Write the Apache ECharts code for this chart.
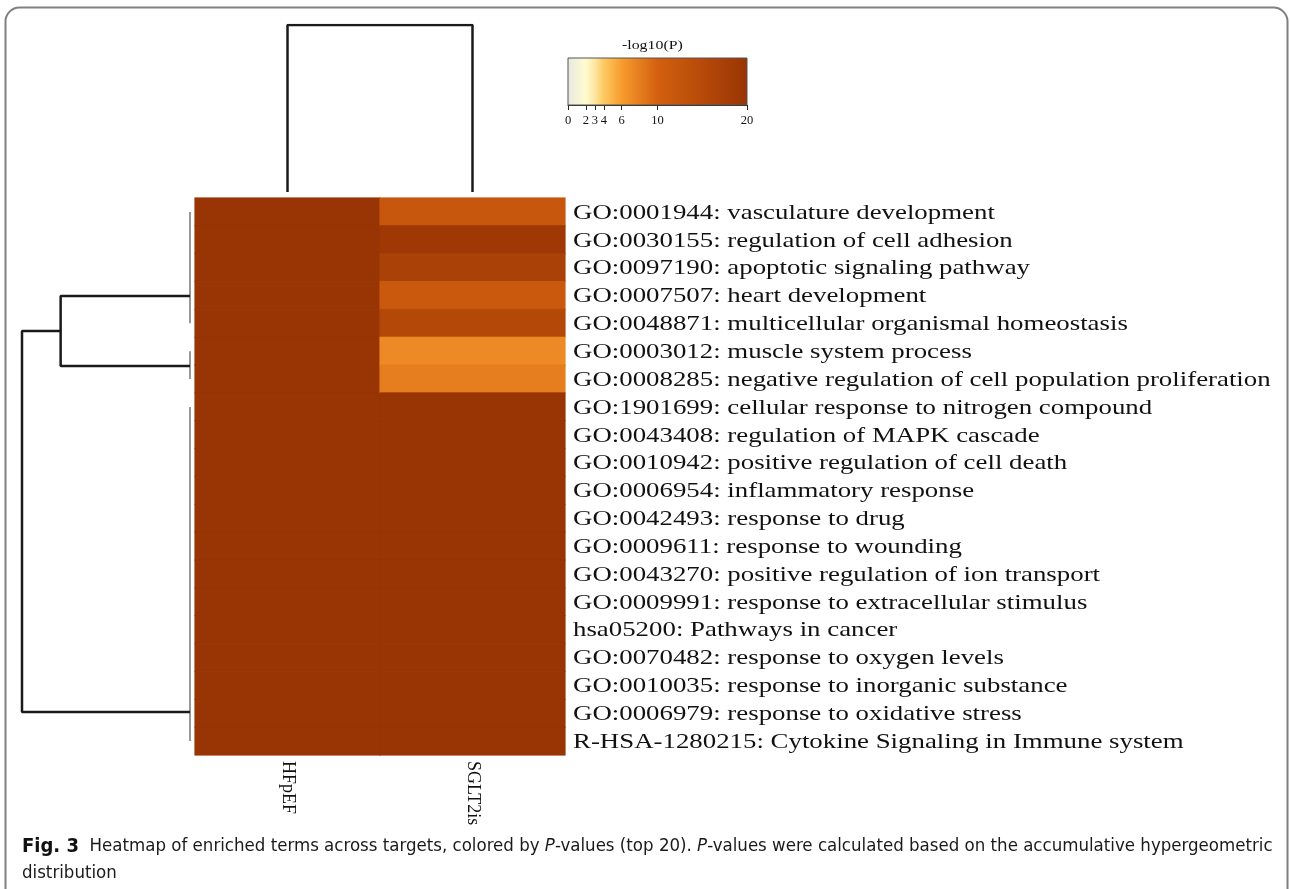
<!DOCTYPE html>
<html>
<head>
<meta charset="utf-8">
<script src="https://cdn.jsdelivr.net/npm/echarts@6/dist/echarts.min.js"></script>
<style>
  html, body { margin: 0; padding: 0; background: #ffffff; }
  #chart { width: 1290px; height: 889px; }
</style>
</head>
<body>
<div id="chart"></div>
<script>
// Targets (heatmap columns)
const columns = ['HFpEF', 'SGLT2is'];

// Enriched terms (heatmap rows, top to bottom)
const terms = [
  'GO:0001944: vasculature development',
  'GO:0030155: regulation of cell adhesion',
  'GO:0097190: apoptotic signaling pathway',
  'GO:0007507: heart development',
  'GO:0048871: multicellular organismal homeostasis',
  'GO:0003012: muscle system process',
  'GO:0008285: negative regulation of cell population proliferation',
  'GO:1901699: cellular response to nitrogen compound',
  'GO:0043408: regulation of MAPK cascade',
  'GO:0010942: positive regulation of cell death',
  'GO:0006954: inflammatory response',
  'GO:0042493: response to drug',
  'GO:0009611: response to wounding',
  'GO:0043270: positive regulation of ion transport',
  'GO:0009991: response to extracellular stimulus',
  'hsa05200: Pathways in cancer',
  'GO:0070482: response to oxygen levels',
  'GO:0010035: response to inorganic substance',
  'GO:0006979: response to oxidative stress',
  'R-HSA-1280215: Cytokine Signaling in Immune system'
];

// -log10(P) per term, capped at 20
const hfpefValues = [20, 20, 20, 20, 20, 20, 20, 20, 20, 20, 20, 20, 20, 20, 20, 20, 20, 20, 20, 20];
const sglt2Values = [12, 19, 17, 11.5, 15.5, 7.2, 8, 20, 20, 20, 20, 20, 20, 20, 20, 20, 20, 20, 20, 20];

// Colour scale for -log10(P)
const scaleTicks = [0, 2, 3, 4, 6, 10, 20];
const scaleStops = [
  [0, '#e8e8e2'], [2, '#fffcd0'], [3, '#fee7a4'], [4, '#fdca62'],
  [6, '#f89c2e'], [10, '#d3600f'], [20, '#993404']
];

// Row dendrogram: groups of identical rows, where each group hangs, and merge heights
const rowGroups = [[0, 4], [5, 6], [7, 19]];
const rowGroupAnchors = [3.52, 6.03, 18.46];
const rowMergeHeights = [0.77, 1];
// Column dendrogram merge height
const colMergeHeight = 1;

const scaleMax = 20;
// Serif labels are drawn widened, like the rest of the figure
const serifStretch = 1.22;

function hexToRgb(h) {
  const n = parseInt(h.slice(1), 16);
  return [(n >> 16) & 255, (n >> 8) & 255, n & 255];
}
function scaleColor(v) {
  v = Math.max(0, Math.min(scaleMax, v));
  for (let i = 1; i < scaleStops.length; i++) {
    const [v1, c1] = scaleStops[i];
    const [v0, c0] = scaleStops[i - 1];
    if (v <= v1) {
      const t = (v - v0) / (v1 - v0);
      const a = hexToRgb(c0), b = hexToRgb(c1);
      const m = a.map((x, k) => Math.round(x + (b[k] - x) * t));
      return 'rgb(' + m.join(',') + ')';
    }
  }
  return scaleStops[scaleStops.length - 1][1];
}

const heatData = [];
[hfpefValues, sglt2Values].forEach((vals, c) => {
  vals.forEach((v, r) => {
    const col = scaleColor(v);
    heatData.push({ value: [c, r, v], itemStyle: { color: col, borderColor: col, borderWidth: 0.6 } });
  });
});

// Row dendrogram paths (x = merge height, y = row position)
const rowLeafPaths = rowGroups.map(g => [[0, g[0] + 0.5], [0, g[1] + 0.5]]);
const subAnchor = (rowGroupAnchors[0] + rowGroupAnchors[1]) / 2;
const rowTreePaths = [
  [[0, rowGroupAnchors[0]], [rowMergeHeights[0], rowGroupAnchors[0]],
   [rowMergeHeights[0], rowGroupAnchors[1]], [0, rowGroupAnchors[1]]],
  [[rowMergeHeights[0], subAnchor], [rowMergeHeights[1], subAnchor],
   [rowMergeHeights[1], rowGroupAnchors[2]], [0, rowGroupAnchors[2]]]
];
const colTreePath = [[0.5, 0], [0.5, colMergeHeight], [1.5, colMergeHeight], [1.5, 0]];

const serif = '"Liberation Serif", "DejaVu Serif", serif';
const capFont = '"Liberation Sans Narrow", "DejaVu Sans Condensed", sans-serif';
const hidden = { show: false };

const series = [
  {
    type: 'heatmap',
    xAxisIndex: 0, yAxisIndex: 0,
    data: heatData,
    emphasis: { disabled: true },
    silent: true
  },
  // Term labels to the right of the heatmap rows
  {
    type: 'custom',
    xAxisIndex: 0, yAxisIndex: 0,
    silent: true, clip: false,
    data: terms.map((t, i) => [columns.length - 1, i]),
    renderItem: function (params, api) {
      const c = api.coord([api.value(0), api.value(1)]);
      const halfW = api.size([1, 0])[0] / 2;
      return {
        type: 'text',
        x: c[0] + halfW + 8, y: c[1] + 1,
        scaleX: serifStretch,
        style: {
          text: terms[params.dataIndex],
          font: '22px ' + serif, fill: '#111',
          align: 'left', verticalAlign: 'middle'
        }
      };
    }
  },
  {
    type: 'line',
    xAxisIndex: 1, yAxisIndex: 1,
    data: colTreePath,
    symbol: 'none', silent: true,
    lineStyle: { color: '#1a1a1a', width: 2.5 }
  }
];
rowLeafPaths.forEach(p => series.push({
  type: 'line', xAxisIndex: 2, yAxisIndex: 2, data: p,
  symbol: 'none', silent: true,
  lineStyle: { color: '#777777', width: 1.5 }
}));
rowTreePaths.forEach(p => series.push({
  type: 'line', xAxisIndex: 2, yAxisIndex: 2, data: p,
  symbol: 'none', silent: true,
  lineStyle: { color: '#1a1a1a', width: 2.5 }
}));
// Colour bar
series.push({
  type: 'custom',
  xAxisIndex: 3, yAxisIndex: 3,
  silent: true,
  data: [[0, scaleMax]],
  renderItem: function (params, api) {
    const p0 = api.coord([0, 1]);
    const p1 = api.coord([scaleMax, 0]);
    return {
      type: 'rect',
      shape: { x: p0[0], y: p0[1], width: p1[0] - p0[0], height: p1[1] - p0[1] },
      style: {
        fill: new echarts.graphic.LinearGradient(0, 0, 1, 0,
          scaleStops.map(s => ({ offset: s[0] / scaleMax, color: s[1] }))),
        stroke: '#555555', lineWidth: 1
      }
    };
  }
});

const option = {
  backgroundColor: '#ffffff',
  animation: false,
  grid: [
    { left: 195, width: 370, top: 198, height: 557 },   // heatmap
    { left: 195, width: 370, top: 25, height: 167 },    // column dendrogram
    { left: 22, width: 168, top: 198, height: 557 },    // row dendrogram
    { left: 568, width: 179, top: 58, height: 47 }      // colour bar
  ],
  xAxis: [
    {
      type: 'category', gridIndex: 0, data: columns, position: 'bottom',
      axisLine: hidden, axisTick: hidden, splitLine: hidden,
      axisLabel: { rotate: -90, interval: 0, fontFamily: serif, fontSize: 18, color: '#111', margin: 6 }
    },
    { type: 'value', gridIndex: 1, min: 0, max: 2, show: false },
    { type: 'value', gridIndex: 2, min: 0, max: 1, inverse: true, show: false },
    {
      type: 'value', gridIndex: 3, min: 0, max: scaleMax,
      axisLine: { show: true, lineStyle: { color: '#222', width: 1 } },
      axisTick: { show: true, customValues: scaleTicks, length: 5, lineStyle: { color: '#222' } },
      axisLabel: { customValues: scaleTicks, fontFamily: serif, fontSize: 12.5, color: '#111', margin: 9 },
      splitLine: hidden
    }
  ],
  yAxis: [
    {
      type: 'category', gridIndex: 0, data: terms, inverse: true,
      axisLine: hidden, axisTick: hidden, splitLine: hidden, axisLabel: hidden
    },
    { type: 'value', gridIndex: 1, min: 0, max: 1, show: false },
    { type: 'value', gridIndex: 2, min: 0, max: 20, inverse: true, show: false },
    { type: 'value', gridIndex: 3, min: 0, max: 1, show: false }
  ],
  series: series,
  graphic: [
    {
      type: 'rect', z: -1, silent: true,
      shape: { x: 5.5, y: 7.5, width: 1282, height: 920, r: 14 },
      style: { fill: 'none', stroke: '#808080', lineWidth: 2 }
    },
    {
      type: 'text', x: 622, y: 46, scaleX: serifStretch, silent: true,
      style: { text: '-log10(P)', font: '13px ' + serif, fill: '#111', align: 'left', verticalAlign: 'middle' }
    },
    {
      type: 'text', left: 22, top: 833, silent: true,
      style: {
        text: '{b|Fig. 3}  Heatmap of enriched terms across targets, colored by {i|P}-values (top 20). {i|P}-values were calculated based on the accumulative hypergeometric\ndistribution',
        fontFamily: capFont,
        fontSize: 18.5, lineHeight: 27, fill: '#1a1a1a',
        rich: {
          b: { fontWeight: 'bold', fontSize: 20, fontFamily: capFont, fill: '#111' },
          i: { fontStyle: 'italic', fontSize: 18.5, fontFamily: capFont, fill: '#1a1a1a' }
        }
      }
    }
  ]
};

const chart = echarts.init(document.getElementById('chart'), null, { renderer: 'canvas' });
chart.setOption(option);
</script>
</body>
</html>
